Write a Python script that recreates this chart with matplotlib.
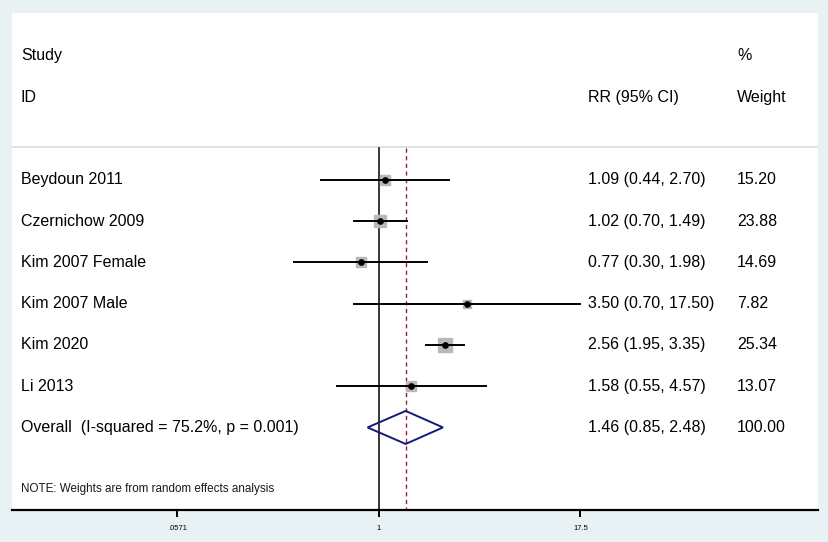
import numpy as np
import matplotlib.pyplot as plt

# study data
studies = ['Beydoun 2011', 'Czernichow 2009', 'Kim 2007 Female',
           'Kim 2007 Male', 'Kim 2020', 'Li 2013']
rr = [1.09, 1.02, 0.77, 3.50, 2.56, 1.58]
lo = [0.44, 0.70, 0.30, 0.70, 1.95, 0.55]
hi = [2.70, 1.49, 1.98, 17.50, 3.35, 4.57]
weights = [15.20, 23.88, 14.69, 7.82, 25.34, 13.07]

overall_label = 'Overall  (I-squared = 75.2%, p = 0.001)'
overall = (1.46, 0.85, 2.48)

tick_vals = [0.0571, 1, 17.5]
tick_labels = ['.0571', '1', '17.5']

plt.rcParams['font.family'] = ['Liberation Sans', 'DejaVu Sans']

fig = plt.figure(figsize=(8.29, 5.42), dpi=100)
fig.patch.set_facecolor('#e8f1f4')
ax = fig.add_axes([12 / 829, 32 / 542, 806 / 829, 497 / 542])
ax.set_facecolor('white')
ax.set_xscale('log')
ax.set_xlim(0.00544, 511)
ax.set_ylim(8, -4.04)

for s in ['top', 'left', 'right']:
    ax.spines[s].set_visible(False)
ax.spines['bottom'].set_linewidth(1.6)
ax.set_yticks([])
ax.set_xticks(tick_vals)
ax.set_xticklabels(tick_labels, fontsize=5.5)
ax.minorticks_off()
ax.tick_params(axis='x', length=5, width=1.4, pad=6)

# separator and reference lines
ax.axhline(-0.8, color='#dcdcdc', lw=1.2)
ax.plot([1, 1], [-0.78, 8], color='black', lw=1.1)
ax.plot([overall[0]] * 2, [-0.78, 8], color='#a01c28', lw=1.0,
        linestyle=(0, (3, 2.5)))

# studies
for i in range(len(studies)):
    ax.plot(rr[i], i, marker='s', ms=1.9 * np.sqrt(weights[i]),
            color='#b8b8b8', mec='#b8b8b8', zorder=3)
    ax.plot([lo[i], hi[i]], [i, i], color='black', lw=1.4, zorder=4)
    ax.plot(rr[i], i, marker='o', ms=3.8, color='black', zorder=5)

# overall diamond
n = len(studies)
est, l, h = overall
ax.fill([l, est, h, est, l], [n, n - 0.4, n, n + 0.4, n],
        facecolor='none', edgecolor='#141a7a', lw=1.4, zorder=4)

# text columns
tr = ax.get_yaxis_transform()
xs, xr, xw = 9 / 806, 576 / 806, 725 / 806
fs = 11.5
ax.text(xs, -3, 'Study', transform=tr, fontsize=fs, va='center')
ax.text(xs, -2, 'ID', transform=tr, fontsize=fs, va='center')
ax.text(xr, -2, 'RR (95% CI)', transform=tr, fontsize=fs, va='center')
ax.text(xw, -3, '%', transform=tr, fontsize=fs, va='center')
ax.text(xw, -2, 'Weight', transform=tr, fontsize=fs, va='center')

for i in range(n):
    ax.text(xs, i, studies[i], transform=tr, fontsize=fs, va='center')
    ax.text(xr, i, f'{rr[i]:.2f} ({lo[i]:.2f}, {hi[i]:.2f})',
            transform=tr, fontsize=fs, va='center')
    ax.text(xw, i, f'{weights[i]:.2f}', transform=tr, fontsize=fs,
            va='center')

ax.text(xs, n, overall_label, transform=tr, fontsize=fs, va='center')
ax.text(xr, n, f'{est:.2f} ({l:.2f}, {h:.2f})', transform=tr,
        fontsize=fs, va='center')
ax.text(xw, n, f'{sum(weights):.2f}', transform=tr, fontsize=fs, va='center')
ax.text(xs, n + 1.5, 'NOTE: Weights are from random effects analysis',
        transform=tr, fontsize=8.4, va='center', color='#1a1a1a')

fig.savefig('out.png', dpi=100, facecolor=fig.get_facecolor())
